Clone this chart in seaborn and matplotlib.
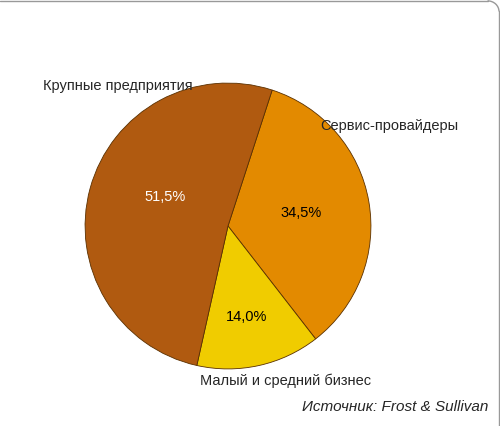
import matplotlib
matplotlib.use("Agg")
import matplotlib.pyplot as plt
import seaborn as sns

labels = ["Сервис-провайдеры", "Малый и средний бизнес", "Крупные предприятия"]
shares = [34.5, 14.0, 51.5]
colors = ["#E38A00", "#F0CC00", "#B05A10"]
pct_colors = ["black", "black", "white"]
source = "Источник: Frost & Sullivan"

sns.set_theme(style="white")
plt.rcParams["font.family"] = ["Liberation Sans Narrow", "Liberation Sans", "DejaVu Sans"]

fig = plt.figure(figsize=(5, 4.26), dpi=100)
ax = fig.add_axes([0.17, 0.134, 0.572, 0.671])
wedges, texts, autotexts = ax.pie(
    shares, colors=colors, startangle=72, counterclock=False,
    autopct=lambda p: f"{p:.1f}%".replace(".", ","), pctdistance=0.52,
    wedgeprops=dict(edgecolor="#5a3000", linewidth=0.6),
    textprops=dict(fontsize=10.5))
for t, c in zip(autotexts, pct_colors):
    t.set_color(c)
autotexts[1].set_position((0.13, -0.64))
autotexts[2].set_position((-0.44, 0.2))
ax.set_xlim(-1, 1)
ax.set_ylim(-1, 1)

# outer labels
ax.text(1.13, 0.70, labels[0], ha="center", va="center", fontsize=10.5)
ax.text(0.40, -1.08, labels[1], ha="center", va="center", fontsize=10.5)
ax.text(-0.77, 0.98, labels[2], ha="center", va="center", fontsize=10.5)

fig.text(0.976, 0.045, source, ha="right", va="center", fontsize=11, style="italic")

# frame at top and right
fig.add_artist(plt.Line2D([0, 0.975], [0.998, 0.998], color="#999999", lw=1))
fig.add_artist(plt.Line2D([0.998, 0.998], [0.0, 0.975], color="#999999", lw=1))
from matplotlib.patches import Arc
fig.add_artist(Arc((0.975, 0.973), 0.046, 0.05, theta1=0, theta2=90, color="#999999", lw=1,
                   transform=fig.transFigure))

fig.savefig("out.png", dpi=100)
